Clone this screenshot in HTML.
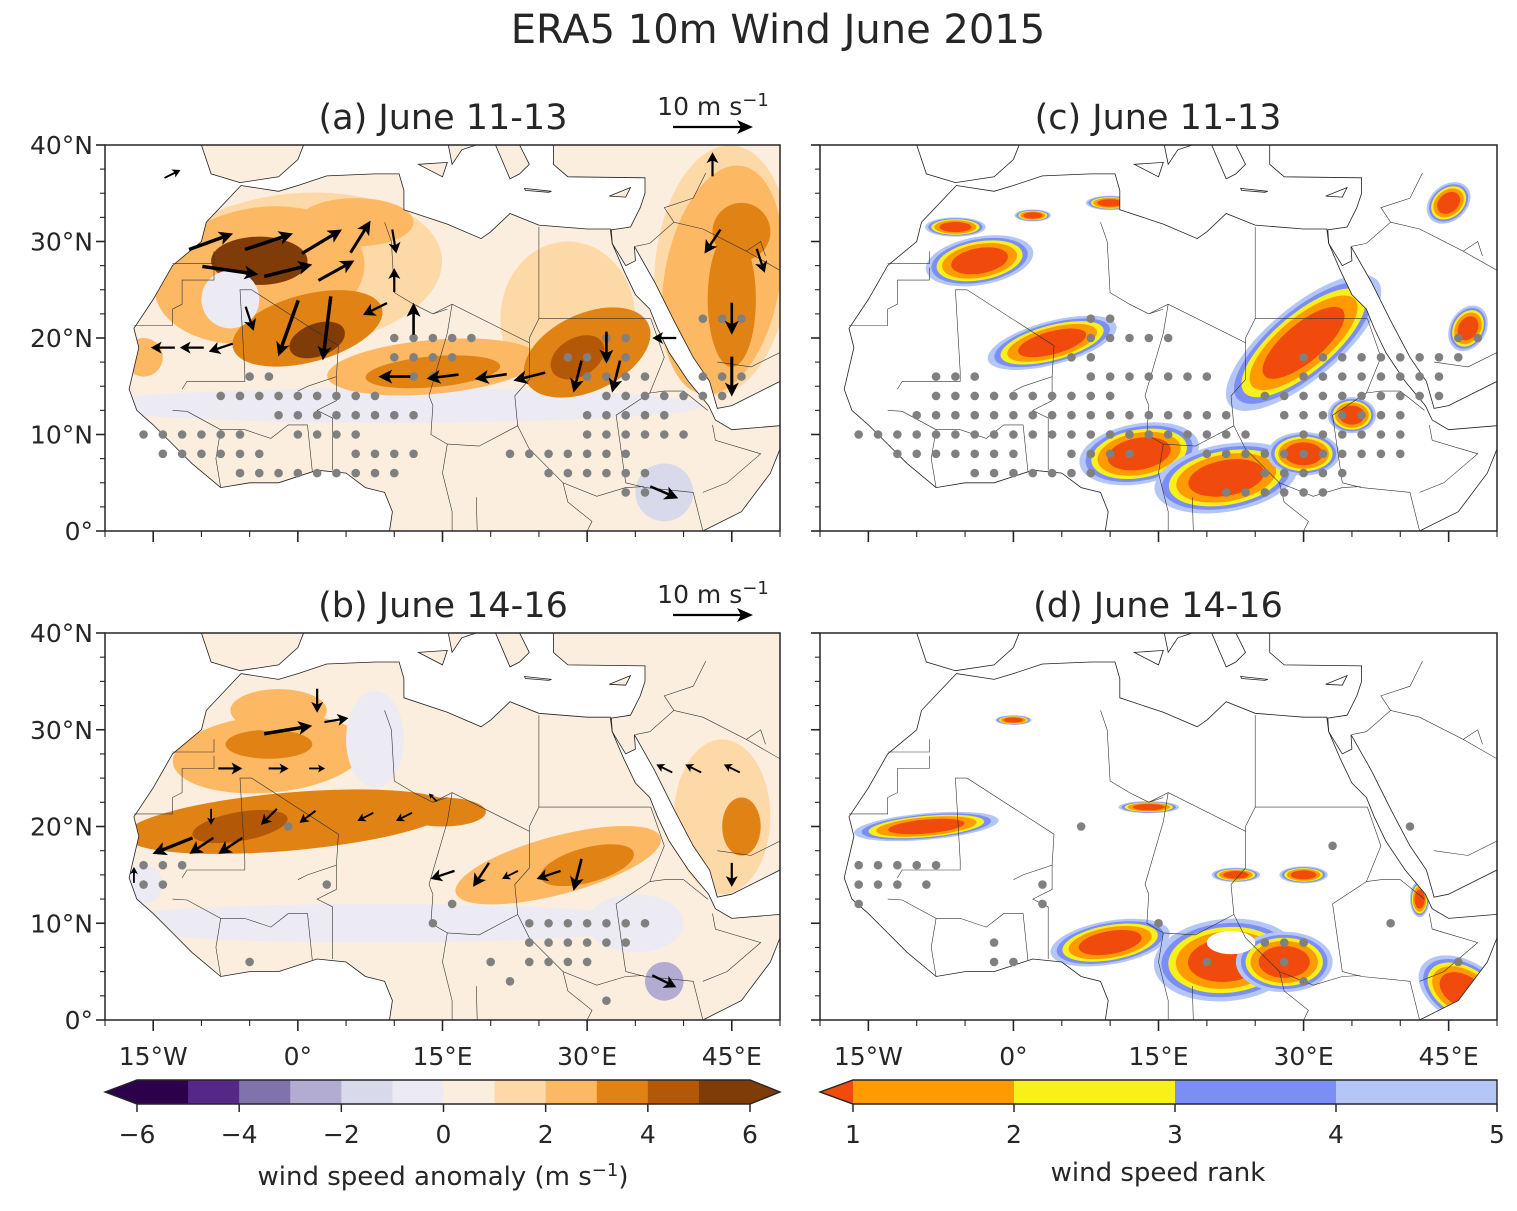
<!DOCTYPE html>
<html><head><meta charset="utf-8"><style>
body{margin:0;background:#fff}
svg text{font-family:"DejaVu Sans","Liberation Sans",sans-serif;fill:#262626}
</style></head><body>
<svg id="fig" width="1517" height="1206" viewBox="0 0 1517 1206" xmlns="http://www.w3.org/2000/svg">
<text x="778" y="43" font-size="40" text-anchor="middle">ERA5 10m Wind June 2015</text>
</svg>
<script>
const NS='http://www.w3.org/2000/svg';
const svg=document.getElementById('fig');
// ---- data ----
const africa=[[-5.9,35.8],[-9.5,32],[-10,30],[-13,27.5],[-15,24],[-17,21],[-16.5,19],[-17.5,14.7],[-16.7,12.5],[-15,11],[-13,9],[-11,7],[-8,4.5],[-5,5],[-2,5],[2,6.3],[5,6],[7,4.5],[9,4],[9.8,2],[9.5,0],[42,0],[46,2],[49,6],[51,11],[45,10.5],[43.3,11.5],[42.6,13],[40.5,15.5],[38.5,18.5],[37.3,21],[36.5,23],[35,24.5],[33.8,27],[32.6,29.8],[32.4,31.3],[30,31.3],[25,31.7],[22,32.9],[20,31],[19,30.3],[15.5,31.8],[11,33.3],[11,35.3],[10.5,37],[8,37],[3,36.8],[0,35.8],[-2,35.2]];
const arabia=[[32.6,29.8],[34,27.5],[35,28],[34.9,29.5],[37,25.8],[39,21.8],[41,18],[42.7,15.5],[43.5,12.7],[45,13],[50,15.5],[50,40],[26.5,40],[26.5,38],[28,36.7],[36,36.6],[36,35],[35.5,33.5],[34.5,31.5],[32.5,31.2]];
const spain=[[-10,40],[-9,37],[-6,36.1],[-2,36.7],[0,38.5],[0.6,40]];
const sicily=[[12.5,38],[15.5,38.2],[15,36.7]];
const italy=[[15.6,40],[16,38],[17,39.5],[18.5,40]];
const greece=[[20.5,40],[22,36.5],[23,37],[24,38],[23,40]];
const crete=[[23.5,35.5],[26.3,35.2],[26,35.1],[23.6,35.3]];
const cyprus=[[32.3,34.7],[34.5,35.6],[34,34.6]];
const borders=[[[-13,27.7],[-8.7,27.7],[-8.7,29]],[[-17,21.3],[-13,21.3],[-13,23],[-12,23.5],[-12,26],[-8.7,26],[-8.7,27.3]],[[-12,14.7],[-11.5,15.5],[-5.5,15.5],[-5.5,16.5],[-6,25],[-4.8,25],[4.2,19.2],[4,16],[1,15],[0,14.5]],[[9,32],[9.7,30],[10,24.7],[12,23.5],[14,22.5],[15.5,23]],[[25,31.5],[25,22],[36.6,22]],[[25,22],[24,20],[24,19.5],[16,23.5],[14,22.5]],[[24,19.5],[24,15.7],[22.5,14],[22.8,10.9]],[[16,23.5],[15.5,20.5],[13.6,14],[14,13]],[[4,16],[4,13.5],[2,12.5],[3.6,11.7],[3.6,6.3]],[[-5.5,10.5],[-2.8,9.6],[-1,11],[1,11],[1.5,6.2]],[[-8,4.5],[-8.5,7.5],[-8,10.5],[-5.5,10.5]],[[-13,12.5],[-11.5,12.4],[-8,10.5]],[[14,13],[13.8,10],[15.5,9],[15,6],[16,2],[16,0]],[[15.5,9],[18.8,8.8],[22.8,10.9],[24,8.5],[27.5,5],[31,3.6],[34,4.5],[35.9,4.6]],[[36.6,22],[38,18],[36.5,14.3],[33,12],[33.5,8.5],[34,5]],[[36.5,14.3],[38,14.5],[40,14.5],[42.5,12.5]],[[34,5],[36,4.5],[41,4],[42,0]],[[43,11],[43.3,9.4],[48,8],[44.5,5],[42,4]],[[18.5,3.5],[18.6,0]],[[27.5,5],[28,3],[30.5,1],[30,0]],[[35,29.5],[36.5,29.8],[39,32],[42,31.3],[46.5,29],[48,30],[48.5,28.5]],[[39,32],[38,33.5],[41,34.5],[42.3,37.1]],[[46.5,29],[50,27]],[[43.5,17.5],[47,17],[50,18.5]]];
// wind-anomaly blobs: lon, lat, rx, ry, rot, bin (-6..6)
const blobsA=[[10,13,32,1.8,0,-1],[0,27,15,8,-5,1],[28,22,7,8,0,1],[44,27,7,13,5,1],[-4,26.5,11,7,-10,2],[6,32,6,2.5,0,2],[-4,28,5,2.5,0,5],[1,21,8,3.5,-15,3],[2,19.8,3,1.7,-20,5],[14,17,11,2.8,-5,2],[14,16.5,7,1.6,-5,3],[30,18.5,7,4,-25,3],[29,18,3,2,-30,4],[44,26,6,12,10,2],[45,24,2.5,7,0,3],[46,31,3,3,0,3],[38,4,3,3,0,-2],[28,34,3,1.8,0,-1],[-7,24,3,3,0,-1],[-16,18,2,2,0,2]];
const blobsB=[[8,10,30,2,0,-1],[-3,27.5,10,4,-5,2],[-3,28.5,4.5,1.5,0,3],[-2,32,5,2.2,0,2],[-1,20.5,17,3,-5,3],[-6,20,5,1.5,-10,4],[15,21.5,4.5,1.5,0,3],[27,16,11,3,-15,2],[30,16,5,1.8,-15,3],[44,21,5,8,0,1],[46,20,2,3,0,3],[8,29,3,5,0,-1],[38,4,2,2,-30,-3],[35,10,5,3,0,-1],[-16,14,2,2,0,-1]];
// rank blobs: lon, lat, rx, ry, rot
const rankC=[[-3.5,28,4.5,2,-10],[4,19.5,5.5,1.8,-15],[30,19.5,8,3,-40],[13,8,5,2.5,-10],[22,5.5,6,2.8,-10],[30,8,3,1.8,0],[10,34,2,0.6,0],[-6,31.5,2.5,0.8,0],[2,32.7,1.5,0.5,0],[47,21,2,1.5,-60],[45,34,2,1.5,-40],[35,12,2,1.5,0]];
const rankD=[[-9,20,6,1.1,-5],[10,8,5,1.8,-10],[22,6.2,6,3.4,-5],[28,6,4,2.5,0],[46.5,3,4,2.5,30],[14,22,2.5,0.5,0],[23,15,2,0.6,0],[30,15,2,0.7,0],[0,31,1.5,0.4,0],[42,12.5,0.8,1.5,0]];
const holeD=[[22.5,8,2.5,1.2,0]];
// stipple rows: lat, lonStart, lonEnd
const dotsA=[[22,42,46],[20,10,18],[20,32,34],[18,10,16],[18,28,34],[16,-5,-3],[16,12,14],[16,30,36],[16,42,46],[14,-8,8],[14,32,44],[12,-2,12],[12,30,38],[10,-16,-6],[10,0,6],[10,30,40],[8,-14,-4],[8,6,12],[8,22,34],[6,-6,10],[6,26,36],[4,34,36]];
const dotsC=[[22,8,10],[20,8,16],[20,46,48],[18,6,8],[18,30,46],[16,-8,-4],[16,8,20],[16,30,44],[14,-8,10],[14,26,44],[12,-10,22],[12,28,40],[10,-16,24],[10,30,40],[8,-12,0],[8,6,12],[8,20,40],[6,-4,8],[6,26,34],[4,22,28],[4,30,32]];
const dotsB=[[16,-16,-12],[14,-16,-14],[12,16,16],[10,24,36],[8,24,34],[6,-5,-5],[6,20,20],[4,22,22],[2,32,32],[20,-1,-1],[14,3,3],[10,14,14],[6,24,30]];
const dotsD=[[16,-16,-8],[14,-16,-12],[12,-16,-16],[20,7,7],[18,33,33],[20,41,41],[14,-9,-9],[14,3,3],[12,3,3],[10,15,15],[8,-2,-2],[6,-2,0],[8,26,30],[6,20,20],[6,28,28],[4,30,30],[10,39,39],[6,46,46]];
// arrows: lon, lat, u, v (m/s)
const arrowsA=[[-9,30,5.5,2],[-3,30,6,2],[2.5,30,5,3],[6.5,30.5,2.5,4],[-7,27,7,-1],[-1,27,6,1.5],[4,27,4.5,2.5],[10,30,0.5,-3],[10,26,0,3],[-1,21,-2.5,-7],[3,21,-1,-8],[-5,22,1,-3],[-8,19,-3,-1],[-14,19,-3,0],[-11,19,-3,0],[10,16,-4,0],[15,16,-4,-0.5],[20,16,-4,-0.6],[24,16,-4,-1],[29,16,-1,-4],[32,19,0,-4],[33,16,-1,-4],[38,20,-3,0],[45,16,0,-5],[45,22,0,-4],[43,30,-2,-3],[48,28,1,-3],[43,38,0,3],[12,22,0,4],[8,23,-3,-1.5],[38,4,3.5,-1.5],[-13,37,2,1]];
const arrowsB=[[2,33,0,-3],[-1,30,6,1],[4,31,3,0.5],[-7,26,3,0],[-2,26,2.5,0],[2,26,2,0],[-9,21,0,-2],[-13,18,-5,-2],[-10,18,-3,-2],[-7,18,-3,-2],[-3,21,-2,-2],[1,21,-2,-1.5],[7,21,-2,-1],[11,21,-2,-1],[15,15,-3,-1],[19,15,-2,-3],[22,15,-2,-1],[26,15,-3,-1],[29,15,-1,-4],[14,23,-1,1],[38,26,-2,1],[41,26,-2,1],[45,26,-2,1],[45,15,0,-3],[38,4,3,-1.5],[-17,15,0,2]];
// colorbars
const anomTicks=[-6,-4,-2,0,2,4,6];
const anomColors=['#2d004b','#542788','#8073ac','#b2abd2','#d8daeb','#eceaf3','#fbeedf','#fdd9a8','#fdb863','#e08214','#b35806','#7f3b08'];
const rankTicks=[1,2,3,4,5];
const rankColors=['#ff9a00','#f8f01a','#7b8ef5','#b4c6f8'];
const rankRed='#f04a0c';
const latTicks=[0,10,20,30,40];
const latLabels=['0°','10°N','20°N','30°N','40°N'];
const lonTicks=[-15,0,15,30,45];
const lonLabels=['15°W','0°','15°E','30°E','45°E'];

function el(tag,attrs,parent){const e=document.createElementNS(NS,tag);for(const k in attrs)e.setAttribute(k,attrs[k]);(parent||svg).appendChild(e);return e;}
function colorOf(bin){return anomColors[bin+6];}

function panel(id,x0,y0,W,H,kind,title,blobs,dots,arrows){
  const lx=lon=>x0+(lon+20)*W/70, ly=lat=>y0+(40-lat)*H/40;
  const g=el('g',{});
  
  
  const cp=el('clipPath',{id:'clip'+id},g);
  el('rect',{x:x0,y:y0,width:W,height:H},cp);
  const cl=el('clipPath',{id:'land'+id},g);
  const polys=[africa,arabia,spain,sicily,italy,greece,crete,cyprus];
  const pts=p=>p.map(q=>lx(q[0]).toFixed(1)+','+ly(q[1]).toFixed(1)).join(' ');
  polys.forEach(p=>el('polygon',{points:pts(p)},cl));
  const mg=el('g',{'clip-path':'url(#clip'+id+')'},g);
  const lg=el('g',{'clip-path':'url(#land'+id+')'},mg);
  if(kind==='anom'){
    el('rect',{x:x0,y:y0,width:W,height:H,fill:'#fbeedf'},lg);
    blobs.forEach(b=>{const e=el('ellipse',{cx:lx(b[0]),cy:ly(b[1]),rx:b[2]*W/70,ry:b[3]*H/40,fill:colorOf(b[5]),transform:`rotate(${b[4]} ${lx(b[0])} ${ly(b[1])})`},lg);
      });
  } else {
    el('rect',{x:x0,y:y0,width:W,height:H,fill:'#fff'},lg);
    const layers=[[1.25,rankColors[3]],[1.12,rankColors[2]],[1.0,rankColors[1]],[0.87,rankColors[0]],[0.66,rankRed]];
    blobs.forEach(b=>{layers.forEach(L=>{const e=el('ellipse',{cx:lx(b[0]),cy:ly(b[1]),rx:b[2]*L[0]*W/70,ry:b[3]*L[0]*H/40,fill:L[1],transform:`rotate(${b[4]} ${lx(b[0])} ${ly(b[1])})`},lg);
      });});
    if(id==='d') holeD.forEach(b=>el('ellipse',{cx:lx(b[0]),cy:ly(b[1]),rx:b[2]*W/70,ry:b[3]*H/40,fill:'#fff'},lg));
  }
  polys.forEach(p=>el('polygon',{points:pts(p),fill:'none',stroke:'#222','stroke-width':0.8},mg));
  borders.forEach(b=>el('polyline',{points:pts(b),fill:'none',stroke:'#333','stroke-width':0.6},mg));
  dots.forEach(r=>{for(let lon=r[1];lon<=r[2];lon+=2){const d=el('circle',{cx:lx(lon),cy:ly(r[0]),r:4.3,fill:'#808080'},mg);
    }});
  const sc=8; // px per m/s
  arrows.forEach(a=>{const x1=lx(a[0]),y1=ly(a[1]);const dx=a[2]*sc,dy=-a[3]*sc;const L=Math.hypot(dx,dy);const ux=dx/L,uy=dy/L;
    const x2=x1+dx,y2=y1+dy;const hl=Math.min(14,L*0.45),hw=Math.min(7,L*0.25);
    const ag=el('g',{},mg);
    
    el('line',{x1:x1-dx/2,y1:y1-dy/2,x2:x2-dx/2-ux*hl*0.6,y2:y2-dy/2-uy*hl*0.6,stroke:'#000','stroke-width':Math.min(3.5,1+L/20)},ag);
    const tx=x2-dx/2,ty=y2-dy/2;
    el('polygon',{points:`${tx},${ty} ${tx-ux*hl-uy*hw},${ty-uy*hl+ux*hw} ${tx-ux*hl*0.75},${ty-uy*hl*0.75} ${tx-ux*hl+uy*hw},${ty-uy*hl-ux*hw}`,fill:'#000'},ag);});
  el('rect',{x:x0,y:y0,width:W,height:H,fill:'none',stroke:'#262626','stroke-width':1.5},g);
  for(let lat=0;lat<=40;lat+=2.5){const maj=lat%10===0;el('line',{x1:x0,x2:x0-(maj?9:5),y1:ly(lat),y2:ly(lat),stroke:'#262626','stroke-width':maj?1.6:1.1},g);}
  for(let lon=-20;lon<=50;lon+=5){const maj=(lon+15)%15===0;el('line',{x1:lx(lon),x2:lx(lon),y1:y0+H,y2:y0+H+(maj?11:6),stroke:'#262626','stroke-width':maj?1.6:1.1},g);}
  if(x0<400) latTicks.forEach((t,i)=>{const tt=el('text',{x:x0-12,y:ly(t)+9,'font-size':25,'text-anchor':'end'},g);tt.textContent=latLabels[i];});
  if(y0>400) lonTicks.forEach((t,i)=>{const tt=el('text',{x:lx(t),y:y0+H+45,'font-size':25,'text-anchor':'middle'},g);tt.textContent=lonLabels[i];});
  const tt=el('text',{x:x0+338,y:y0-16,'font-size':35,'text-anchor':'middle'},g);tt.textContent=title;
  
  if(kind==='anom'){
    const kg=el('g',{},g);
    const kt=el('text',{x:713,y:y0-30,'font-size':25,'text-anchor':'middle'},kg);kt.innerHTML='10 m s<tspan dy="-9" font-size="18">−1</tspan>';
    el('line',{x1:673,x2:742,y1:y0-18,y2:y0-18,stroke:'#000','stroke-width':2.2},kg);
    el('polygon',{points:`753,${y0-18} 737,${y0-25} 741,${y0-18} 737,${y0-11}`,fill:'#000'},kg);
  }
}
panel('a',105,145,675,386,'anom','(a) June 11-13',blobsA,dotsA,arrowsA);
panel('c',820,145,677,386,'rank','(c) June 11-13',rankC,dotsC,[]);
panel('b',105,633,675,387,'anom','(b) June 14-16',blobsB,dotsB,arrowsB);
panel('d',820,633,677,387,'rank','(d) June 14-16',rankD,dotsD,[]);

(function(){
  const g=el('g',{});
  const x0=137,x1=750,y=1080,h=24,bw=(x1-x0)/anomColors.length;
  anomColors.forEach((c,i)=>el('rect',{x:x0+i*bw,y:y,width:bw+0.5,height:h,fill:c},g));
  el('polygon',{points:`105,${y+h/2} ${x0},${y} ${x0},${y+h}`,fill:anomColors[0]},g);
  el('polygon',{points:`780,${y+h/2} ${x1},${y} ${x1},${y+h}`,fill:anomColors[11]},g);
  el('polygon',{points:`105,${y+h/2} ${x0},${y} ${x1},${y} 780,${y+h/2} ${x1},${y+h} ${x0},${y+h}`,fill:'none',stroke:'#262626','stroke-width':1.4},g);
  anomTicks.forEach(t=>{const x=x0+(t+6)/12*(x1-x0);el('line',{x1:x,x2:x,y1:y+h,y2:y+h+8,stroke:'#262626','stroke-width':1.5},g);
    const tt=el('text',{x:x,y:y+h+39,'font-size':25,'text-anchor':'middle'},g);tt.textContent=t<0?'−'+(-t):String(t);});
  const lt=el('text',{x:443,y:1185,'font-size':26,'text-anchor':'middle'},g);lt.innerHTML='wind speed anomaly (m s<tspan dy="-9" font-size="18">−1</tspan><tspan dy="9">)</tspan>';
})();
(function(){
  const g=el('g',{});
  const x0=853,x1=1497,y=1080,h=24,bw=(x1-x0)/rankColors.length;
  rankColors.forEach((c,i)=>el('rect',{x:x0+i*bw,y:y,width:bw+0.5,height:h,fill:c},g));
  el('polygon',{points:`820,${y+h/2} ${x0},${y} ${x0},${y+h}`,fill:rankRed},g);
  el('polygon',{points:`820,${y+h/2} ${x0},${y} ${x1},${y} ${x1},${y+h} ${x0},${y+h}`,fill:'none',stroke:'#262626','stroke-width':1.4},g);
  rankTicks.forEach(t=>{const x=x0+(t-1)/4*(x1-x0);el('line',{x1:x,x2:x,y1:y+h,y2:y+h+8,stroke:'#262626','stroke-width':1.5},g);
    const tt=el('text',{x:x,y:y+h+39,'font-size':25,'text-anchor':'middle'},g);tt.textContent=String(t);});
  const lt=el('text',{x:1158,y:1181,'font-size':26,'text-anchor':'middle'},g);lt.textContent='wind speed rank';
})();
</script>
</body></html>
